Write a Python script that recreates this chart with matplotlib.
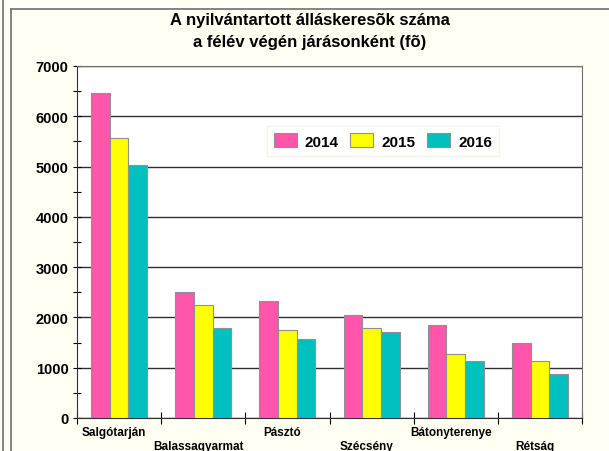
import matplotlib.pyplot as plt
import numpy as np
from matplotlib.lines import Line2D

plt.rcParams['font.family'] = ['Liberation Sans', 'DejaVu Sans']

# data
districts = ["Salgótarján", "Balassagyarmat", "Pásztó", "Szécsény", "Bátonyterenye", "Rétság"]
years = ["2014", "2015", "2016"]
v2014 = [6460, 2510, 2330, 2040, 1840, 1500]
v2015 = [5560, 2240, 1750, 1780, 1270, 1130]
v2016 = [5030, 1780, 1580, 1720, 1130, 870]
colors = ["#FF55AA", "#FFFF00", "#00C0C0"]

fig = plt.figure(figsize=(6.09, 4.52), dpi=100)
fig.patch.set_facecolor("#FFFFF3")

# frame lines of the chart object
fig.add_artist(Line2D([3/609, 3/609], [0, 1], color="#707070", lw=1.2))
fig.add_artist(Line2D([11/609, 11/609], [0, 1 - 10/452], color="#707070", lw=1.2))
fig.add_artist(Line2D([11/609, 1], [1 - 10/452, 1 - 10/452], color="#707070", lw=1.2))

ax = fig.add_axes([77/609, 1 - 419/452, (582 - 77)/609, (419 - 67)/452])
ax.set_facecolor("white")

x = np.arange(len(districts))
w = 1 / 4.5
for i, (vals, c) in enumerate(zip([v2014, v2015, v2016], colors)):
    ax.bar(x + (i - 1) * w, vals, width=w, color=c, edgecolor="#909090",
           linewidth=0.8, label=years[i], zorder=3)

ax.set_xlim(-0.5, len(districts) - 0.5)
ax.set_ylim(0, 7000)
ax.set_yticks(np.arange(0, 7001, 1000))
ax.set_yticks(np.arange(0, 7001, 500), minor=True)
ax.yaxis.grid(True, color="#303030", linewidth=1.0, zorder=1)
ax.tick_params(axis="y", which="both", direction="inout", length=6, width=0.8,
               labelsize=10.5, pad=3)
for lab in ax.get_yticklabels():
    lab.set_fontweight("bold")

ax.set_xticks(np.arange(-0.5, len(districts) + 0.5, 1))
ax.set_xticklabels([])
ax.tick_params(axis="x", direction="inout", length=8, width=0.8)
# category names alternate between two rows
for i, name in enumerate(districts):
    ax.text(i - 0.06, -150 if i % 2 == 0 else -430, name, ha="center", va="top",
            fontsize=8.5, fontweight="bold", clip_on=False)

for side in ["top", "right"]:
    ax.spines[side].set_color("#707070")
for side in ["left", "bottom"]:
    ax.spines[side].set_color("#303030")

fig.text(310/609, 1 - 20/452, "A nyilvántartott álláskeresõk száma", ha="center",
         va="center", fontsize=12, fontweight="bold")
fig.text(310/609, 1 - 43/452, "a félév végén járásonként (fõ)", ha="center",
         va="center", fontsize=12, fontweight="bold")

leg = ax.legend(loc="center", bbox_to_anchor=(0.606, 0.787), ncol=3, frameon=True,
                prop={"weight": "bold", "size": 11}, handlelength=1.5,
                handleheight=1.05, columnspacing=0.75, handletextpad=0.55,
                borderpad=0.45, fancybox=False)
leg.get_frame().set_edgecolor("#F4F4E8")
leg.get_frame().set_facecolor("white")
leg.get_frame().set_alpha(1)

fig.savefig("out.png", dpi=100, facecolor=fig.get_facecolor())
